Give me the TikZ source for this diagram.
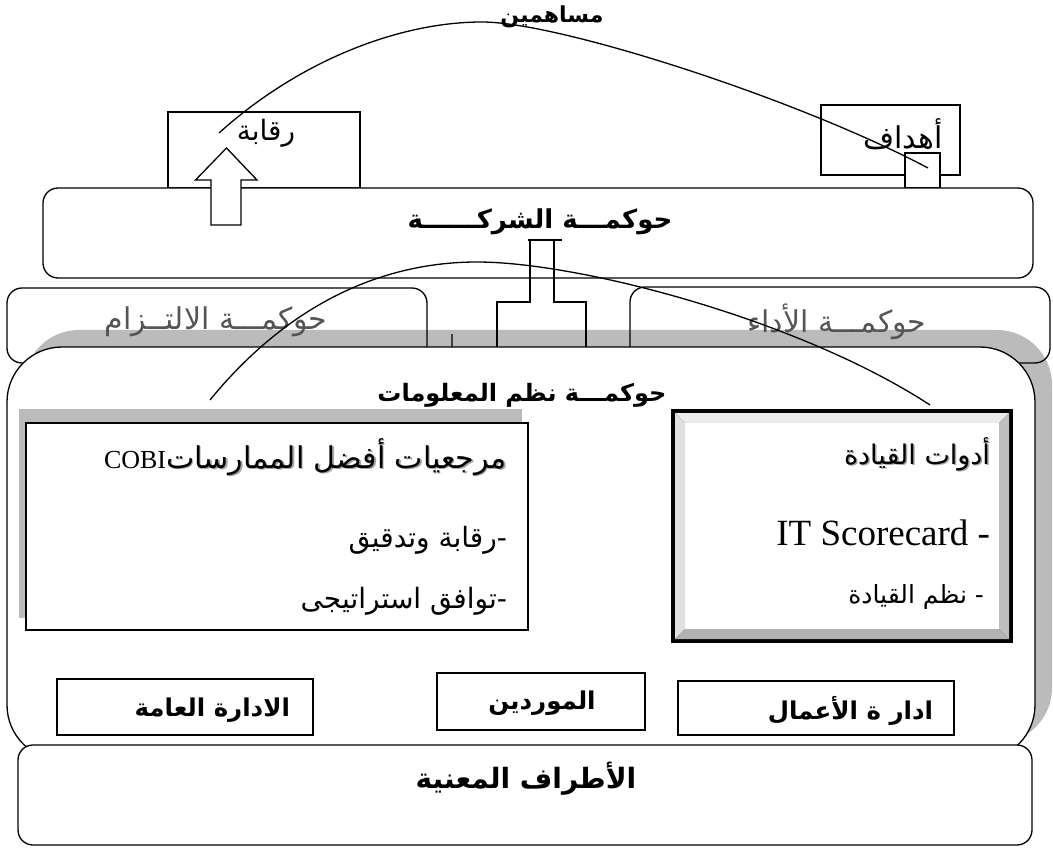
\documentclass[tikz,border=0pt]{standalone}
\usepackage{fontspec}
\setmainfont{Liberation Serif}
\newfontfamily\arfont[Script=Arabic]{DejaVu Sans}
\newfontfamily\tmsfont{Liberation Serif}
\TeXXeTstate=1
\newcommand{\AR}[1]{{\arfont\beginR #1\endR}}
\newcommand{\ARB}[1]{{\arfont\bfseries\beginR #1\endR}}
\newcommand{\fsz}[1]{\fontsize{#1}{#1}\selectfont}
\definecolor{shad}{RGB}{187,187,187}
\definecolor{txtgray}{RGB}{85,85,85}
\begin{document}
\begin{tikzpicture}[x=1pt,y=-1pt,
  box/.style={draw, line width=1.3pt, fill=white, inner sep=0pt, outer sep=0pt},
  rbox/.style={box, rounded corners=15pt},
  shadowbox/.style={fill=shad, inner sep=0pt, outer sep=0pt},
  lbl/.style={inner sep=0pt, outer sep=0pt},
  conn/.style={line width=1.3pt},
  curve/.style={line width=1.3pt}]
\useasboundingbox (0,0) rectangle (1053,853);

% top boxes
\node[box, minimum width=192pt, minimum height=76pt] (raq) at (264,150) {};
\node[box, minimum width=139pt, minimum height=70pt] (ahd) at (890.5,140) {};
\node[lbl, font=\fsz{28}] (raqt) at (266,133) {\AR{رقابة}};
\node[lbl, font=\fsz{30}] (ahdt) at (903,134) {\AR{أهداف}};
\node[box, minimum width=35pt, minimum height=35pt] (small) at (922.5,170.5) {};

% corporate governance
\node[rbox, minimum width=990pt, minimum height=90pt] (corp) at (538,233) {};
\node[lbl, font=\fsz{26}] (corpt) at (540,222) {\ARB{حوكمـــة الشركــــــة}};

% block arrow
\coordinate (tip) at (226.5,148);
\draw[line width=1.3pt, fill=white] (tip) -- ++(30.5,32) -- ++(-16,0) -- ++(0,45) -- ++(-30,0) -- ++(0,-45) -- ++(-15.5,0) -- cycle;

% info shadow
\node[shadowbox, rounded corners=55pt, minimum width=1028pt, minimum height=413pt] (infosh) at (538,536.5) {};

% second row
\node[draw, line width=1.3pt, rounded corners=15pt, inner sep=0pt, outer sep=0pt, minimum width=420pt, minimum height=75pt] (comp) at (217,325.5) {};
\node[draw, line width=1.3pt, rounded corners=15pt, inner sep=0pt, outer sep=0pt, minimum width=420pt, minimum height=76pt] (perf) at (840,325) {};
\node[lbl, font=\fsz{30}, text=txtgray] (compt) at (216,322) {\AR{حوكمـــة الالتــزام}};
\node[lbl, font=\fsz{30}, text=txtgray] (perft) at (837,322) {\AR{حوكمـــة الأداء}};

% T connector
\draw[conn] (528,240) -- (562,240);
\draw[conn] (530,240) -- (530,302) -- (497,302) -- (497,347);
\draw[conn] (554,240) -- (554,302) -- (586,302) -- (586,347);
\draw[line width=1.3pt, draw=black!75] (452,334) -- (452,347);

% info box
\node[box, rounded corners=55pt, minimum width=1028pt, minimum height=413pt] (info) at (521,553.5) {};
\node[lbl, font=\fsz{24}] (infot) at (522,395) {\ARB{حوكمـــة نظم المعلومات}};

% COBI box
\node[shadowbox, minimum width=503pt, minimum height=209pt] (cobish) at (270.5,513.5) {};
\node[box, minimum width=502pt, minimum height=207pt] (cobi) at (277,526.5) {};
\node[lbl, anchor=east, font=\fsz{30}] (cobi1sh) at (508.5,458.5) {\color{gray!70}\AR{مرجعيات أفضل الممارسات}};
\node[lbl, anchor=east] (cobi1) at (507,457) {{\tmsfont\fontsize{26}{26}\selectfont COBI}{\arfont\fontsize{30}{30}\selectfont\beginR مرجعيات أفضل الممارسات\endR}};
\node[lbl, anchor=east, font=\fsz{28}] (cobi2) at (507,540) {\AR{-رقابة وتدقيق}};
\node[lbl, anchor=east, font=\fsz{28}] (cobi3) at (507,601) {\AR{-توافق استراتيجى}};

% leadership tools box
\fill[black] (671,409) rectangle (1013,643);
\fill[black!8] (675,413) -- (1009,413) -- (999,423) -- (685,423) -- cycle;
\fill[black!12] (675,413) -- (685,423) -- (685,629) -- (675,639) -- cycle;
\fill[black!30] (675,639) -- (685,629) -- (999,629) -- (1009,639) -- cycle;
\fill[black!25] (1009,413) -- (1009,639) -- (999,629) -- (999,423) -- cycle;
\node[fill=white, inner sep=0pt, outer sep=0pt, minimum width=314pt, minimum height=206pt] (lead) at (842,526) {};
\node[lbl, anchor=east, font=\fsz{27}] (lead1sh) at (991.5,455.5) {\color{gray!70}\AR{أدوات القيادة}};
\node[lbl, anchor=east, font=\fsz{27}] (lead1) at (990,454) {\AR{أدوات القيادة}};
\node[lbl, anchor=east, font=\fsz{37}\tmsfont] (lead2) at (990,533) {IT Scorecard -};
\node[lbl, anchor=east, font=\fsz{25}] (lead3) at (984,597) {\AR{- نظم القيادة}};

% bottom boxes
\node[box, minimum width=256pt, minimum height=56pt] (amma) at (185,707) {};
\node[lbl, anchor=east, font=\fsz{24.5}] (ammat) at (290,710) {\ARB{الادارة العامة}};
\node[box, minimum width=208pt, minimum height=57pt] (mwr) at (541,701.5) {};
\node[lbl, font=\fsz{24.5}] (mwrt) at (542,703) {\ARB{الموردين}};
\node[box, minimum width=276pt, minimum height=54pt] (aml) at (816,708) {};
\node[lbl, anchor=east, font=\fsz{24.5}] (amlt) at (933,711) {\ARB{ادار ة  الأعمال}};

% stakeholders
\node[rbox, minimum width=1014pt, minimum height=100pt] (stake) at (525,795) {};
\node[lbl, font=\fsz{28}] (staket) at (526,779) {\ARB{الأطراف المعنية}};

% curves
\coordinate (c2s) at (210,400);
\coordinate (c2m) at (477,262);
\coordinate (c2e) at (930,405);
\draw[curve] (c2s) .. controls (300,290) and (400,262) .. (c2m) .. controls (580,262) and (800,320) .. (c2e);
\coordinate (c1s) at (219,133);
\coordinate (c1m) at (482,22);
\coordinate (c1e) at (928,168);
\draw[curve] (c1s) .. controls (300,60) and (400,22) .. (c1m) .. controls (560,22) and (800,100) .. (c1e);
\node[lbl, font=\fsz{22}] (share) at (552,17) {\ARB{مساهمين}};
\end{tikzpicture}
\end{document}
